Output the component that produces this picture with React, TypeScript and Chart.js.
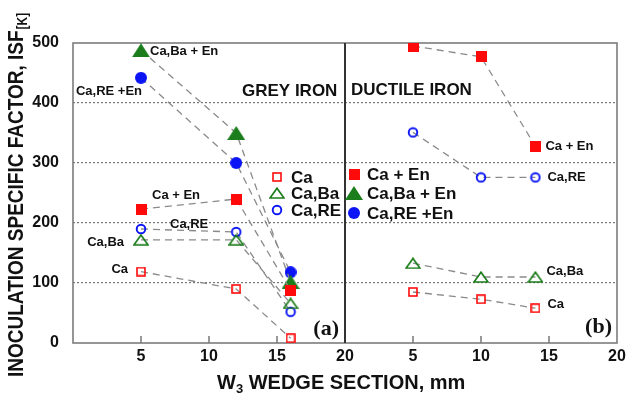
import React, { useEffect, useRef } from 'react';
import { Chart, registerables } from 'chart.js';
Chart.register(...registerables);

// ---------- data ----------
const greyX = [5, 12, 16];
const ductileX = [5, 10, 14];
const panelOffset = 20; // ductile panel sits to the right of the grey panel
const xTickLabels = ['5', '10', '15', '20', '5', '10', '15', '20'];

const greyCa = [119, 90, 8];
const greyCaBa = [172, 172, 66];
const greyCaRE = [190, 185, 52];
const greyCaEn = [223, 240, 88];
const greyCaBaEn = [488, 350, 102];
const greyCaREEn = [442, 300, 118];

const ductileCa = [85, 73, 58];
const ductileCaBa = [133, 110, 110];
const ductileCaRE = [351, 276, 276];
const ductileCaEn = [495, 477, 328];

const RED = '#ff0a0a';
const GREEN = '#1b7d1b';
const BLUE = '#0a14f5';
const FONT = '"Liberation Sans", Arial, sans-serif';

type Kind = 'openSquare' | 'fillSquare' | 'openCircle' | 'fillCircle' | 'openTri' | 'fillTri';

function makeMarker(kind: Kind, color: string): HTMLCanvasElement {
  const c = document.createElement('canvas');
  const ctx = c.getContext('2d')!;
  if (kind === 'openSquare') {
    c.width = 10; c.height = 10;
    ctx.strokeStyle = color; ctx.lineWidth = 1.6;
    ctx.strokeRect(1, 1, 8, 8);
  } else if (kind === 'fillSquare') {
    c.width = 11; c.height = 11;
    ctx.fillStyle = color; ctx.fillRect(0, 0, 11, 11);
  } else if (kind === 'openCircle') {
    c.width = 12; c.height = 12;
    ctx.strokeStyle = color; ctx.lineWidth = 1.9;
    ctx.beginPath(); ctx.arc(6, 6, 4.3, 0, Math.PI * 2); ctx.stroke();
  } else if (kind === 'fillCircle') {
    c.width = 12; c.height = 12;
    ctx.fillStyle = color;
    ctx.beginPath(); ctx.arc(6, 6, 6, 0, Math.PI * 2); ctx.fill();
  } else if (kind === 'openTri') {
    c.width = 16; c.height = 12;
    ctx.strokeStyle = color; ctx.lineWidth = 1.7; ctx.lineJoin = 'miter';
    ctx.beginPath(); ctx.moveTo(8, 1.2); ctx.lineTo(15, 11); ctx.lineTo(1, 11); ctx.closePath(); ctx.stroke();
  } else {
    const w = 18, h = 14;
    c.width = w; c.height = h;
    ctx.fillStyle = color;
    ctx.beginPath(); ctx.moveTo(w / 2, 0); ctx.lineTo(w, h); ctx.lineTo(0, h); ctx.closePath(); ctx.fill();
  }
  return c;
}

export default function App() {
  const ref = useRef<HTMLCanvasElement>(null);

  useEffect(() => {
    document.body.style.margin = '0';
    const m = {
      openSquare: makeMarker('openSquare', RED),
      fillSquare: makeMarker('fillSquare', RED),
      openCircle: makeMarker('openCircle', BLUE),
      fillCircle: makeMarker('fillCircle', BLUE),
      openTri: makeMarker('openTri', GREEN),
      fillTri: makeMarker('fillTri', GREEN),
    };

    const series = [
      { key: 'gCa', xs: greyX, ys: greyCa, off: 0, marker: m.openSquare },
      { key: 'gCaBa', xs: greyX, ys: greyCaBa, off: 0, marker: m.openTri },
      { key: 'gCaRE', xs: greyX, ys: greyCaRE, off: 0, marker: m.openCircle },
      { key: 'gCaEn', xs: greyX, ys: greyCaEn, off: 0, marker: m.fillSquare },
      { key: 'gCaBaEn', xs: greyX, ys: greyCaBaEn, off: 0, marker: m.fillTri },
      { key: 'gCaREEn', xs: greyX, ys: greyCaREEn, off: 0, marker: m.fillCircle },
      { key: 'dCa', xs: ductileX, ys: ductileCa, off: panelOffset, marker: m.openSquare },
      { key: 'dCaBa', xs: ductileX, ys: ductileCaBa, off: panelOffset, marker: m.openTri },
      { key: 'dCaRE', xs: ductileX, ys: ductileCaRE, off: panelOffset, marker: m.openCircle },
      { key: 'dCaEn', xs: ductileX, ys: ductileCaEn, off: panelOffset, marker: m.fillSquare },
    ];
    const keyIndex: Record<string, number> = {};
    series.forEach((s, i) => (keyIndex[s.key] = i));

    const pointLabels = [
      { key: 'gCaBaEn', i: 0, text: 'Ca,Ba + En', dx: 9, dy: 1, align: 'left' },
      { key: 'gCaREEn', i: 0, text: 'Ca,RE +En', dx: 1, dy: 14, align: 'right' },
      { key: 'gCaEn', i: 0, text: 'Ca + En', dx: 11, dy: -14, align: 'left' },
      { key: 'gCaRE', i: 0, text: 'Ca,RE', dx: 29, dy: -5, align: 'left' },
      { key: 'gCaBa', i: 0, text: 'Ca,Ba', dx: -17, dy: 3, align: 'right' },
      { key: 'gCa', i: 0, text: 'Ca', dx: -13, dy: -2, align: 'right' },
      { key: 'dCaEn', i: 2, text: 'Ca + En', dx: 10, dy: 0, align: 'left' },
      { key: 'dCaRE', i: 2, text: 'Ca,RE', dx: 12, dy: 0, align: 'left' },
      { key: 'dCaBa', i: 2, text: 'Ca,Ba', dx: 11, dy: -6, align: 'left' },
      { key: 'dCa', i: 2, text: 'Ca', dx: 12, dy: -4, align: 'left' },
    ];

    const legendLeft = [
      { marker: m.openSquare, text: 'Ca' },
      { marker: m.openTri, text: 'Ca,Ba' },
      { marker: m.openCircle, text: 'Ca,RE' },
    ];
    const legendRight = [
      { marker: m.fillSquare, text: 'Ca + En' },
      { marker: m.fillTri, text: 'Ca,Ba + En' },
      { marker: m.fillCircle, text: 'Ca,RE +En' },
    ];

    const decor = {
      id: 'decor',
      beforeDatasetsDraw(chart: any) {
        const { ctx, chartArea: a, scales } = chart;
        ctx.save();
        ctx.strokeStyle = '#777';
        ctx.lineWidth = 1.5;
        [5, 10, 15, 25, 30, 35].forEach((v) => {
          const x = scales.x.getPixelForValue(v);
          ctx.beginPath(); ctx.moveTo(x, a.bottom); ctx.lineTo(x, a.bottom - 7); ctx.stroke();
        });
        ctx.strokeStyle = '#7c7c7c';
        ctx.lineWidth = 1.6;
        ctx.strokeRect(a.left, a.top, a.right - a.left, a.bottom - a.top);
        const xd = scales.x.getPixelForValue(panelOffset);
        ctx.strokeStyle = '#333';
        ctx.lineWidth = 2;
        ctx.beginPath(); ctx.moveTo(xd, a.top); ctx.lineTo(xd, a.bottom); ctx.stroke();
        ctx.restore();
      },
      afterDraw(chart: any) {
        const { ctx } = chart;
        ctx.save();
        ctx.fillStyle = '#111';
        ctx.font = `bold 13px ${FONT}`;
        ctx.textBaseline = 'middle';
        pointLabels.forEach((l) => {
          const el = chart.getDatasetMeta(keyIndex[l.key]).data[l.i];
          ctx.textAlign = l.align;
          ctx.fillText(l.text, el.x + l.dx, el.y + l.dy);
        });
        ctx.font = `bold 17px ${FONT}`;
        ctx.textAlign = 'left';
        ctx.fillText('GREY IRON', 242, 91);
        ctx.fillText('DUCTILE IRON', 351, 90);
        legendLeft.forEach((it, i) => {
          const y = [177, 193, 210][i];
          ctx.drawImage(it.marker, 277 - it.marker.width / 2, y - it.marker.height / 2);
          ctx.fillText(it.text, 291, y + 1);
        });
        legendRight.forEach((it, i) => {
          const y = [174, 193, 213][i];
          ctx.drawImage(it.marker, 354 - it.marker.width / 2, y - it.marker.height / 2);
          ctx.fillText(it.text, 367, y + 1);
        });
        ctx.font = `bold 22px "Liberation Serif", "Times New Roman", serif`;
        ctx.textAlign = 'right';
        ctx.fillText('(a)', 339, 329);
        ctx.fillText('(b)', 612, 327);
        // y title
        ctx.save();
        ctx.translate(17, 377);
        ctx.rotate(-Math.PI / 2);
        ctx.scale(1, 1.2);
        ctx.textAlign = 'left';
        ctx.textBaseline = 'middle';
        ctx.font = `bold 19px ${FONT}`;
        const main = 'INOCULATION SPECIFIC FACTOR, ISF';
        ctx.fillText(main, 0, 0);
        const w = ctx.measureText(main).width;
        ctx.font = `bold 12px ${FONT}`;
        ctx.fillText('[K]', w + 1, 5);
        ctx.restore();
        // x title
        ctx.save();
        ctx.translate(217, 383);
        ctx.scale(1, 1.05);
        ctx.textAlign = 'left';
        ctx.textBaseline = 'middle';
        ctx.font = `bold 20px ${FONT}`;
        ctx.fillText('W', 0, 0);
        let x = ctx.measureText('W').width;
        ctx.font = `bold 13px ${FONT}`;
        ctx.fillText('3', x, 6);
        x += ctx.measureText('3').width;
        ctx.font = `bold 20px ${FONT}`;
        ctx.fillText(' WEDGE SECTION, mm', x, 0);
        ctx.restore();
        ctx.restore();
      },
    };

    const chart = new Chart(ref.current!, {
      type: 'line',
      data: {
        datasets: series.map((s) => ({
          label: s.key,
          data: s.xs.map((x, i) => ({ x: x + s.off, y: s.ys[i] })),
          borderColor: '#8a8a8a',
          borderWidth: 1.3,
          borderDash: [7, 5],
          pointStyle: s.marker,
          pointRadius: 6,
          pointHoverRadius: 6,
          fill: false,
          tension: 0,
        })),
      },
      options: {
        animation: false,
        responsive: false,
        events: [],
        layout: { padding: { top: 43, right: 13, left: 0, bottom: 0 } },
        plugins: { legend: { display: false }, tooltip: { enabled: false } },
        scales: {
          x: {
            type: 'linear',
            min: 0,
            max: 40,
            afterFit: (s: any) => { s.height = 57; },
            grid: { display: false, drawTicks: false },
            border: { display: false },
            ticks: {
              stepSize: 5,
              padding: 4,
              color: '#111',
              font: { family: FONT, size: 16, weight: 'bold' },
              maxRotation: 0,
              callback: (v: any) => (v === 0 ? '' : xTickLabels[v / 5 - 1]),
            },
          },
          y: {
            min: 0,
            max: 500,
            afterFit: (s: any) => { s.width = 73; },
            grid: {
              drawTicks: false,
              lineWidth: 1.2,
              color: (c: any) => (c.tick && (c.tick.value === 0 || c.tick.value === 500) ? 'rgba(0,0,0,0)' : '#777'),
            },
            border: { display: false, dash: [2, 2] },
            ticks: {
              stepSize: 100,
              padding: 14,
              color: '#111',
              font: { family: FONT, size: 16, weight: 'bold' },
            },
          },
        },
      },
      plugins: [decor],
    } as any);
    return () => chart.destroy();
  }, []);

  return <canvas ref={ref} width={630} height={400} style={{ display: 'block' }} />;
}
